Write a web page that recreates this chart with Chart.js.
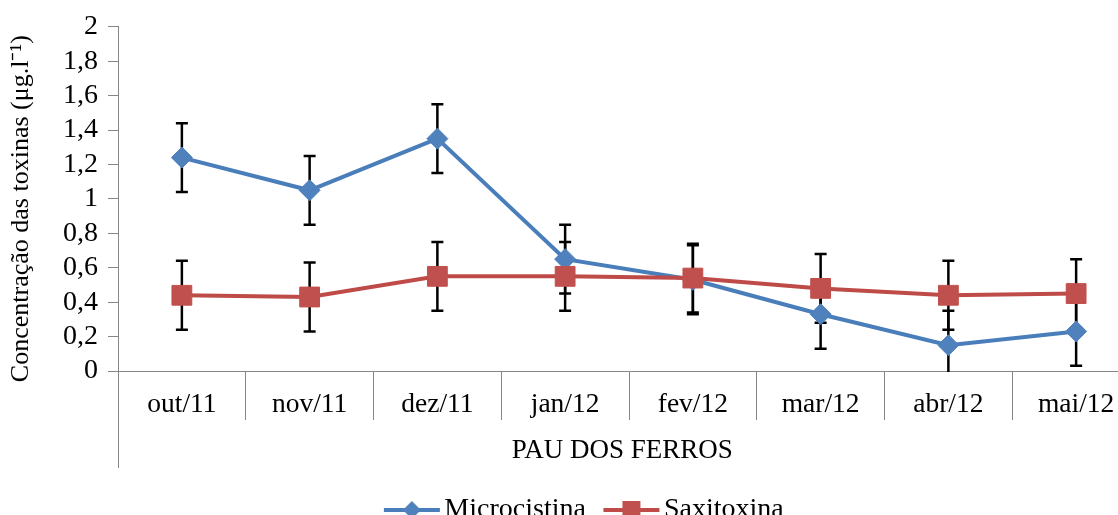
<!DOCTYPE html>
<html>
<head>
<meta charset="utf-8">
<script src="https://cdn.jsdelivr.net/npm/chart.js@4/dist/chart.umd.min.js"></script>
<style>
  html, body { margin: 0; padding: 0; overflow: hidden; background: #fff; }
  #wrap { position: absolute; left: 0; top: 0; width: 1155px; height: 534px; }
</style>
</head>
<body>
<div id="wrap"><canvas id="myChart"></canvas></div>
<script>
// dados
const categories = ['out/11', 'nov/11', 'dez/11', 'jan/12', 'fev/12', 'mar/12', 'abr/12', 'mai/12'];
const groupLabels = ['PAU DOS FERROS'];
const microcistina = [1.24, 1.05, 1.35, 0.65, 0.53, 0.33, 0.15, 0.23];
const microcistinaErr = [0.2, 0.2, 0.2, 0.2, 0.2, 0.2, 0.2, 0.2];
const saxitoxina = [0.44, 0.43, 0.55, 0.55, 0.54, 0.48, 0.44, 0.45];
const saxitoxinaErr = [0.2, 0.2, 0.2, 0.2, 0.2, 0.2, 0.2, 0.2];

const FONT = '"Liberation Serif", "Times New Roman", serif';
const AXIS_GRAY = '#868686';
const BLUE_LINE = '#4A7EBB', BLUE = '#4F81BD';
const RED_LINE = '#BE4B48', RED = '#C0504D';

Chart.defaults.font.family = FONT;
Chart.defaults.font.size = 27;
Chart.defaults.color = '#000';

// legend icon: line + marker, drawn a bit to the right inside the canvas
const makeIcon = (lineColor, fill, shape) => {
    const c = document.createElement('canvas');
    c.width = 130; c.height = 28;
    const g = c.getContext('2d');
    const cx = 77, cy = 14;
    g.strokeStyle = lineColor;
    g.lineWidth = 4;
    g.beginPath(); g.moveTo(cx - 28, cy); g.lineTo(cx + 28, cy); g.stroke();
    g.fillStyle = fill;
    g.beginPath();
    if (shape === 'diamond') {
        g.moveTo(cx, cy - 9); g.lineTo(cx + 9, cy); g.lineTo(cx, cy + 9); g.lineTo(cx - 9, cy);
    } else {
        g.rect(cx - 9, cy - 9, 18, 18);
    }
    g.closePath(); g.fill();
    return c;
};
const legendIcons = [makeIcon(BLUE_LINE, BLUE, 'diamond'), makeIcon(RED_LINE, RED, 'square')];

// error bars (drawn under the series)
const errorBars = {
    id: 'errorBars',
    beforeDatasetsDraw(chart) {
        const {ctx, chartArea, scales: {x, y}} = chart;
        ctx.save();
        ctx.beginPath();
        ctx.rect(chartArea.left, chartArea.top, chartArea.width, chartArea.height + 1);
        ctx.clip();
        ctx.strokeStyle = '#000';
        ctx.lineWidth = 2.5;
        chart.data.datasets.forEach(ds => {
            ds.data.forEach((v, i) => {
                const e = ds.errors[i];
                const px = x.getPixelForValue(i);
                const yt = y.getPixelForValue(v + e);
                const yb = y.getPixelForValue(v - e);
                ctx.beginPath();
                ctx.moveTo(px, yt); ctx.lineTo(px, yb);
                ctx.moveTo(px - 6, yt); ctx.lineTo(px + 6, yt);
                ctx.moveTo(px - 6, yb); ctx.lineTo(px + 6, yb);
                ctx.stroke();
            });
        });
        ctx.restore();
    }
};

const data = {
    labels: categories,
    datasets: [
        {
            label: 'Microcistina',
            data: microcistina,
            errors: microcistinaErr,
            borderColor: BLUE_LINE,
            backgroundColor: BLUE,
            borderWidth: 4,
            pointStyle: 'rectRot',
            pointRadius: 10.5,
            pointBorderWidth: 1,
            pointBorderColor: BLUE,
            pointBackgroundColor: BLUE,
            tension: 0,
            fill: false,
            order: 1
        },
        {
            label: 'Saxitoxina',
            data: saxitoxina,
            errors: saxitoxinaErr,
            borderColor: RED_LINE,
            backgroundColor: RED,
            borderWidth: 4,
            pointStyle: 'rect',
            pointRadius: 14,
            pointBorderWidth: 1,
            pointBorderColor: RED,
            pointBackgroundColor: RED,
            tension: 0,
            fill: false,
            order: 0
        }
    ]
};

const config = {
    type: 'line',
    data: data,
    options: {
        responsive: true,
        maintainAspectRatio: false,
        animation: false,
        layout: { padding: { top: 24, left: 0, right: 2, bottom: 0 } },
        plugins: {
            tooltip: { enabled: false },
            legend: {
                position: 'bottom',
                labels: {
                    usePointStyle: true,
                    pointStyleWidth: 61,
                    boxHeight: 28,
                    padding: 3,
                    color: '#000',
                    font: { size: 28, family: FONT },
                    sort: (a, b) => a.datasetIndex - b.datasetIndex,
                    generateLabels(chart) {
                        const items = Chart.defaults.plugins.legend.labels.generateLabels(chart);
                        items.forEach(it => { it.pointStyle = legendIcons[it.datasetIndex]; });
                        return items;
                    }
                }
            }
        },
        scales: {
            x: {
                type: 'category',
                position: 'bottom',
                offset: true,
                grid: { offset: true, drawOnChartArea: false, tickLength: 49, color: AXIS_GRAY, lineWidth: 1 },
                border: { color: AXIS_GRAY, width: 1 },
                ticks: { autoSkip: false, maxRotation: 0, padding: -31.5, color: '#000', font: { size: 27.5 } },
                afterFit: s => { s.height = 49; }
            },
            x2: {
                type: 'category',
                position: 'bottom',
                labels: groupLabels,
                offset: true,
                grid: { offset: true, drawOnChartArea: false, tickLength: 48, color: AXIS_GRAY, lineWidth: 1 },
                border: { display: false },
                ticks: {
                    autoSkip: false, maxRotation: 0, padding: -33, color: '#000', font: { size: 27 },
                    // trailing spaces nudge the centred group label a little to the left
                    callback: (v, i) => groupLabels[i] + '  '
                },
                afterFit: s => { s.height = 73; }
            },
            y: {
                min: 0,
                max: 2,
                grid: { drawOnChartArea: false, tickLength: 10, color: AXIS_GRAY, lineWidth: 1 },
                border: { color: AXIS_GRAY, width: 1 },
                ticks: {
                    stepSize: 0.2,
                    autoSkip: false,
                    padding: 10,
                    color: '#000',
                    font: { size: 28 },
                    callback: v => String(Math.round(v * 10) / 10).replace('.', ',')
                },
                title: {
                    display: true,
                    text: 'Concentração das toxinas (μg.l⁻¹)   ',
                    color: '#000',
                    font: { size: 26 },
                    padding: { top: 6, bottom: 0 }
                },
                afterFit: s => { s.width = 118; }
            }
        }
    },
    plugins: [errorBars]
};

new Chart(document.getElementById('myChart'), config);
</script>
</body>
</html>
